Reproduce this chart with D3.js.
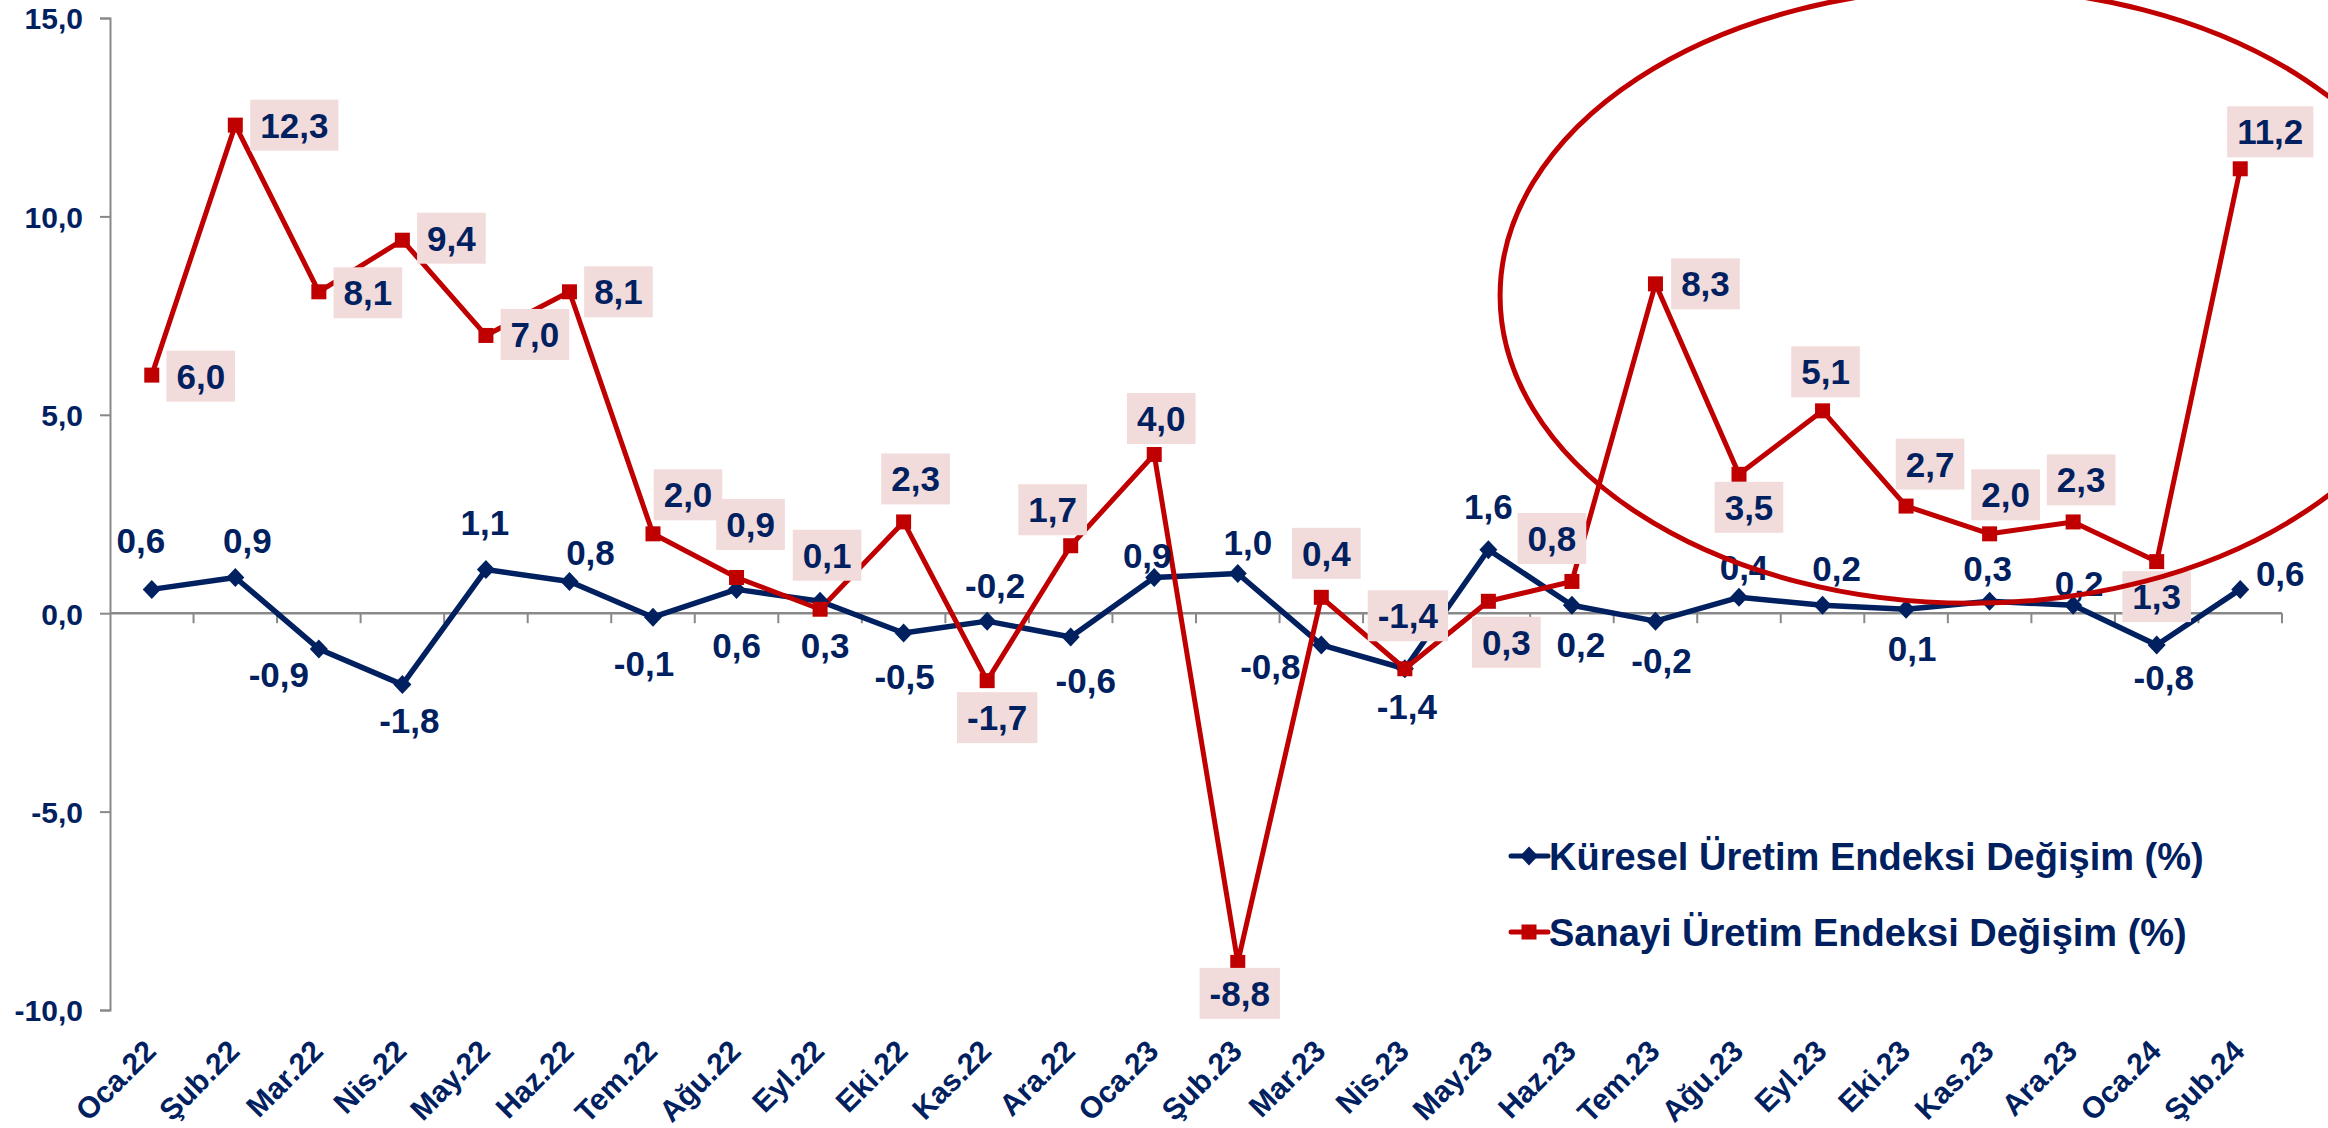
<!DOCTYPE html>
<html>
<head>
<meta charset="utf-8">
<script src="https://cdn.jsdelivr.net/npm/d3@7"></script>
<style>
  html, body { margin: 0; padding: 0; background: #ffffff; }
  svg { display: block; }
  text { font-family: "Liberation Sans", Arial, "DejaVu Sans", sans-serif; font-weight: bold; }
</style>
</head>
<body>
<svg id="chart" width="2328" height="1128"></svg>
<script>
// ---------------- DATA ----------------
const categories = ["Oca.22","Şub.22","Mar.22","Nis.22","May.22","Haz.22","Tem.22","Ağu.22","Eyl.22","Eki.22","Kas.22","Ara.22",
  "Oca.23","Şub.23","Mar.23","Nis.23","May.23","Haz.23","Tem.23","Ağu.23","Eyl.23","Eki.23","Kas.23","Ara.23","Oca.24","Şub.24"];
const kureselValues = [0.6, 0.9, -0.9, -1.8, 1.1, 0.8, -0.1, 0.6, 0.3, -0.5, -0.2, -0.6,
  0.9, 1.0, -0.8, -1.4, 1.6, 0.2, -0.2, 0.4, 0.2, 0.1, 0.3, 0.2, -0.8, 0.6];
const sanayiValues = [6.0, 12.3, 8.1, 9.4, 7.0, 8.1, 2.0, 0.9, 0.1, 2.3, -1.7, 1.7,
  4.0, -8.8, 0.4, -1.4, 0.3, 0.8, 8.3, 3.5, 5.1, 2.7, 2.0, 2.3, 1.3, 11.2];
const yTicks = [15, 10, 5, 0, -5, -10];
const seriesNames = ["Küresel Üretim Endeksi Değişim (%)", "Sanayi Üretim Endeksi Değişim (%)"];

// label placement offsets (px, relative to the point)
const kureselLabelOffsets = [[-11,-49],[12,-37],[-40,26],[7,36],[-1,-47],[21,-29],[-9,46],[0,56],[5,44],[1,43],[8,-36],[15,43],
  [-7,-22],[10,-31],[-51,22],[2,38],[0,-43],[9,39],[6,39],[5,-30],[14,-37],[6,39],[-2,-33],[6,-22],[7,33],[40,-16]];
const sanayiLabelOffsets = [[49,1],[59,0],[49,1],[49,-2],[49,-1],[49,0],[35,-39],[14,-53],[7,-54],[12,-43],[10,37],[-18,-36],
  [7,-36],[2,31],[5,-44],[3,-53],[18,41],[-20,-43],[50,0],[10,33],[3,-39],[24,-42],[16,-39],[8,-42],[0,35],[30,-37]];

// highlight ellipse (in data units: category index / value)
const ellipseCenter = { idx: 21.77, value: 8.0 };
const ellipseRadii = { bands: 5.63, value: 7.75 };

// ---------------- STYLE ----------------
const NAVY = "#002060", RED = "#C00000", BOXFILL = "#F2DCDB", AXIS = "#898989";
const fmt = v => (v < 0 ? "-" : "") + Math.abs(v).toFixed(1).replace(".", ",");

const svg = d3.select("#chart");
const x = d3.scaleBand().domain(categories).range([110, 2282]).padding(0);
const y = d3.scaleLinear().domain([-10, 15]).range([1010, 18]);
const bw = x.bandwidth();
const px = (c) => x(c) + bw / 2;

// ---------------- AXES ----------------
const yAxisG = svg.append("g").attr("transform", "translate(110,0)");
yAxisG.call(d3.axisLeft(y).tickValues(yTicks).tickSize(10).tickPadding(17).tickFormat(fmt));
yAxisG.attr("font-size", null).attr("font-family", null);
yAxisG.select(".domain").attr("stroke", AXIS).attr("stroke-width", 2);
yAxisG.selectAll(".tick line").attr("stroke", AXIS).attr("stroke-width", 2);
yAxisG.selectAll(".tick text").attr("fill", NAVY).style("font-size", "30px")
  .attr("dy", "0.36em");

// x axis at zero
const xAxisG = svg.append("g");
xAxisG.append("line").attr("x1", 110).attr("x2", 2282).attr("y1", y(0)).attr("y2", y(0))
  .attr("stroke", AXIS).attr("stroke-width", 2.5);
const boundaries = categories.map(c => x(c)).concat([x(categories[categories.length - 1]) + bw]);
xAxisG.selectAll("line.tk").data(boundaries.slice(1)).enter().append("line").attr("class", "tk")
  .attr("x1", d => d).attr("x2", d => d).attr("y1", y(0)).attr("y2", y(0) + 10)
  .attr("stroke", AXIS).attr("stroke-width", 2);

// category labels
svg.append("g").selectAll("text").data(categories).enter().append("text")
  .attr("transform", c => `translate(${px(c) + 6},1053) rotate(-45)`)
  .attr("text-anchor", "end").attr("fill", NAVY).style("font-size", "30px").text(c => c);

// ---------------- SERIES ----------------
const lineGen = d3.line().x((d, i) => px(categories[i])).y(d => y(d));

svg.append("path").datum(kureselValues).attr("d", lineGen)
  .attr("fill", "none").attr("stroke", NAVY).attr("stroke-width", 5.5).attr("stroke-linejoin", "round");
svg.append("path").datum(sanayiValues).attr("d", lineGen)
  .attr("fill", "none").attr("stroke", RED).attr("stroke-width", 5).attr("stroke-linejoin", "round");

const diamond = (s) => `M0,${-s}L${s * 0.95},0L0,${s}L${-s * 0.95},0Z`;
svg.append("g").selectAll("path").data(kureselValues).enter().append("path")
  .attr("transform", (d, i) => `translate(${px(categories[i])},${y(d)})`)
  .attr("d", diamond(9.5)).attr("fill", NAVY);
svg.append("g").selectAll("rect").data(sanayiValues).enter().append("rect")
  .attr("x", (d, i) => px(categories[i]) - 7.5).attr("y", d => y(d) - 7.5)
  .attr("width", 15).attr("height", 15).attr("fill", RED);

// ---------------- DATA LABELS ----------------
const sLab = svg.append("g");
sanayiValues.forEach((v, i) => {
  const cx = px(categories[i]) + sanayiLabelOffsets[i][0];
  const cy = y(v) + sanayiLabelOffsets[i][1];
  const g = sLab.append("g");
  const r = g.append("rect").attr("fill", BOXFILL);
  const t = g.append("text").attr("x", cx).attr("y", cy + 12.5).attr("text-anchor", "middle")
    .attr("fill", NAVY).style("font-size", "35px").text(fmt(v));
  const w = t.node().getComputedTextLength() + 20;
  r.attr("x", cx - w / 2).attr("y", cy - 25.5).attr("width", w).attr("height", 51);
});
svg.append("g").selectAll("text").data(kureselValues).enter().append("text")
  .attr("x", (d, i) => px(categories[i]) + kureselLabelOffsets[i][0])
  .attr("y", (d, i) => y(d) + kureselLabelOffsets[i][1] + 12.5)
  .attr("text-anchor", "middle").attr("fill", NAVY).style("font-size", "35px").text(d => fmt(d));

// ---------------- ELLIPSE ----------------
svg.append("ellipse")
  .attr("cx", x(categories[0]) + bw * (ellipseCenter.idx + 0.5))
  .attr("cy", y(ellipseCenter.value))
  .attr("rx", bw * ellipseRadii.bands)
  .attr("ry", y(0) - y(ellipseRadii.value))
  .attr("fill", "none").attr("stroke", RED).attr("stroke-width", 5);

// ---------------- LEGEND ----------------
const legend = svg.append("g");
const legendRows = [{ name: seriesNames[0], color: NAVY, shape: "diamond", y: 856 },
                    { name: seriesNames[1], color: RED, shape: "square", y: 932 }];
legendRows.forEach(r => {
  legend.append("line").attr("x1", 1511).attr("x2", 1548).attr("y1", r.y).attr("y2", r.y)
    .attr("stroke", r.color).attr("stroke-width", 5).attr("stroke-linecap", "round");
  if (r.shape === "diamond") {
    legend.append("path").attr("transform", `translate(1529,${r.y})`).attr("d", diamond(9.5)).attr("fill", r.color);
  } else {
    legend.append("rect").attr("x", 1529 - 7.5).attr("y", r.y - 7.5).attr("width", 15).attr("height", 15).attr("fill", r.color);
  }
  legend.append("text").attr("x", 1549).attr("y", r.y + 13.5).attr("fill", NAVY).style("font-size", "38px").text(r.name);
});
</script>
</body>
</html>
